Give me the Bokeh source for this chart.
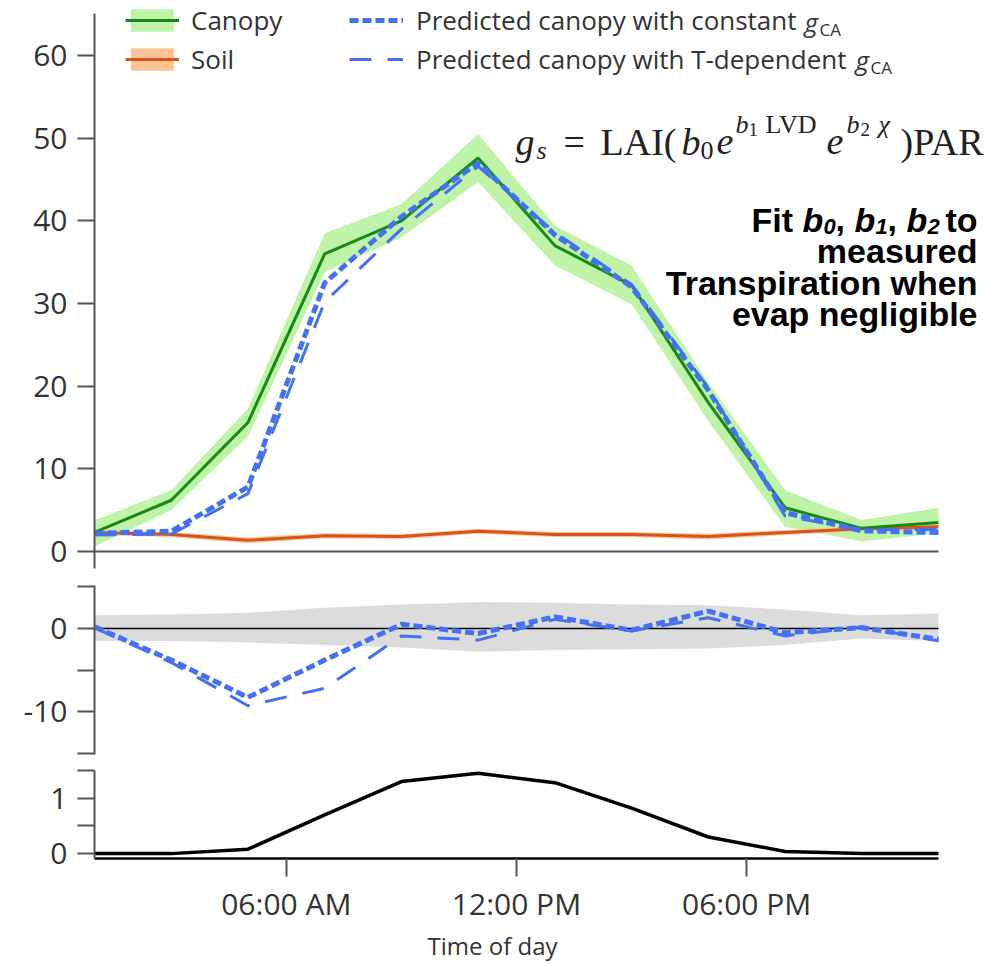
from bokeh.plotting import figure
from bokeh.layouts import column
from bokeh.models import Range1d, FixedTicker, Label, Legend, LegendItem
from bokeh.embed import file_html
from bokeh.resources import INLINE

# ---------------- data ----------------
hours = [1, 3, 5, 7, 9, 11, 13, 15, 17, 19, 21, 23]
canopy = [2.3, 6.2, 15.6, 36.0, 40.0, 47.6, 37.0, 32.2, 18.0, 5.3, 2.8, 3.5]
canopy_lo = [0.6, 5.0, 13.9, 33.8, 38.0, 44.7, 34.6, 29.9, 15.8, 3.0, 1.2, 2.2]
canopy_hi = [3.8, 7.4, 17.3, 38.5, 42.0, 50.5, 39.4, 34.6, 20.4, 7.4, 3.8, 5.3]
soil = [2.3, 2.05, 1.35, 1.9, 1.8, 2.45, 2.05, 2.05, 1.8, 2.3, 2.75, 3.0]
soil_lo = [2.0, 1.75, 1.0, 1.6, 1.5, 2.15, 1.75, 1.75, 1.45, 2.0, 2.45, 2.7]
soil_hi = [2.6, 2.35, 1.7, 2.2, 2.1, 2.75, 2.35, 2.35, 2.15, 2.6, 3.05, 3.3]
pred_const = [2.2, 2.45, 7.8, 32.5, 40.5, 47.0, 38.3, 32.0, 19.5, 4.7, 2.5, 2.3]
pred_tdep = [2.0, 2.1, 7.0, 30.2, 39.0, 46.6, 38.6, 32.3, 19.8, 4.3, 2.6, 2.7]
resid_const = [0.2, -3.8, -8.3, -3.8, 0.5, -0.6, 1.4, -0.2, 2.1, -0.5, 0.1, -1.3]
resid_tdep = [0.1, -4.1, -9.3, -7.2, -0.9, -1.4, 1.1, -0.3, 1.3, -0.9, 0.2, -1.5]
resid_band_lo = [-1.5, -1.5, -1.7, -2.0, -2.3, -2.8, -2.6, -2.5, -2.4, -2.0, -1.2, -1.5]
resid_band_hi = [1.6, 1.7, 1.9, 2.5, 2.9, 3.2, 3.1, 2.9, 2.8, 2.3, 1.6, 1.8]
par = [0.0, 0.0, 0.08, 0.7, 1.3, 1.45, 1.28, 0.82, 0.3, 0.04, 0.0, 0.0]

top_ticks = [0, 10, 20, 30, 40, 50, 60]
mid_ticks = [-10, 0]
mid_tick_labels = ["-10", "0"]
mid_minor = [-15, -5, 5]
bot_ticks = [0, 1]
bot_tick_labels = ["0", "1"]
bot_minor = [0.5, 1.5]
time_ticks = [6, 12, 18]
time_labels = ["06:00 AM", "12:00 PM", "06:00 PM"]
x_title = "Time of day"
legend_labels = ["Canopy", "Soil", "Predicted canopy with constant",
                 "Predicted canopy with T-dependent"]

# ---------------- styles / geometry ----------------
GREEN_LINE = "#138a13"
GREEN_BAND = "#bff3a8"
ORANGE_LINE = "#d4561e"
ORANGE_BAND = "#fcc395"
BLUE = "#4470f4"
GREY_BAND = "#dcdcdc"
AX = "#555555"
TXT = "#333333"
W = 985
BL = 94
PX_PER_H = (938 - BL) / 22.0          # data ends at x = 938 px
X_END = hours[0] + (W - BL) / PX_PER_H  # frames run to the right edge
xr = Range1d(hours[0], X_END)


def base_fig(height, yr, top, bottom):
    p = figure(width=W, height=height, x_range=xr, y_range=yr,
               output_backend="svg", toolbar_location=None,
               min_border_left=BL, min_border_right=0,
               min_border_top=top, min_border_bottom=bottom)
    p.outline_line_color = None
    p.grid.visible = False
    p.background_fill_color = "white"
    p.border_fill_color = "white"
    ax = p.yaxis[0]
    ax.axis_line_color = AX
    ax.axis_line_width = 2
    ax.major_tick_line_color = AX
    ax.major_tick_line_width = 2
    ax.major_tick_out = 17
    ax.major_tick_in = 0
    ax.minor_tick_line_color = AX
    ax.minor_tick_line_width = 2
    ax.minor_tick_out = 17
    ax.minor_tick_in = 0
    ax.major_label_text_font = "Open Sans"
    ax.major_label_text_font_size = "30px"
    ax.major_label_text_color = TXT
    ax.major_label_standoff = 10
    return p


# ---------------- top panel ----------------
SCALE = 8.267          # px per unit
ZERO_PX = 551          # px of y = 0
BOT_F = 568
Y_START = -(BOT_F - ZERO_PX) / SCALE
Y_END = Y_START + BOT_F / SCALE
p1 = base_fig(573, Range1d(Y_START, Y_END), 0, 5)
p1.xaxis.visible = False
p1.yaxis.ticker = FixedTicker(ticks=top_ticks, minor_ticks=[])
p1.yaxis.bounds = (Y_START, (ZERO_PX - 13) / SCALE)
p1.line([hours[0], hours[-1]], [0, 0], line_color=AX, line_width=2)

r_cband = p1.varea(x=hours, y1=canopy_lo, y2=canopy_hi, fill_color=GREEN_BAND)
r_sband = p1.varea(x=hours, y1=soil_lo, y2=soil_hi, fill_color=ORANGE_BAND)
r_sline = p1.line(hours, soil, line_color=ORANGE_LINE, line_width=3)
r_cline = p1.line(hours, canopy, line_color=GREEN_LINE, line_width=3)
r_tdep = p1.line(hours, pred_tdep, line_color=BLUE, line_width=3, line_dash="22 16")
r_const = p1.line(hours, pred_const, line_color=BLUE, line_width=5, line_dash="9 4")

leg_common = dict(glyph_width=54, glyph_height=28, spacing=3, padding=0, margin=0,
                  border_line_alpha=0, background_fill_alpha=0,
                  label_text_font="Open Sans", label_text_font_size="26px",
                  label_text_color=TXT, label_height=28)
leg1 = Legend(items=[LegendItem(label=legend_labels[0], renderers=[r_cband, r_cline]),
                     LegendItem(label=legend_labels[1], renderers=[r_sband, r_sline])],
              location=(31, 491), label_standoff=12, **leg_common)
leg2 = Legend(items=[LegendItem(label=legend_labels[2], renderers=[r_const]),
                     LegendItem(label=legend_labels[3], renderers=[r_tdep])],
              location=(255, 491), label_standoff=13, **leg_common)
p1.add_layout(leg1)
p1.add_layout(leg2)


def hx(px):
    return hours[0] + (px - BL) / PX_PER_H


def vy(py):
    return (ZERO_PX - py) / SCALE


def lab(fig, px, yval, text, size, font="Open Sans", style="normal", align="left",
        baseline="alphabetic", color=TXT):
    fig.add_layout(Label(x=hx(px), y=yval, text=text, text_font=font,
                         text_font_size=f"{size}px", text_font_style=style,
                         text_align=align, text_baseline=baseline, text_color=color))


# g_CA pieces of the legend labels
lab(p1, 804, vy(21), "g", 26, style="italic", baseline="middle")
lab(p1, 819, vy(29), "CA", 17, baseline="middle")
lab(p1, 855, vy(59), "g", 26, style="italic", baseline="middle")
lab(p1, 870, vy(67), "CA", 17, baseline="middle")

# formula  g_s = LAI(b0 e^{b1 LVD} e^{b2 chi})PAR
SER = "Liberation Serif"
FK = "#222222"
B0, BSUB, BSUP, BSS = 141, 150, 124, 129
for px, py, t, s, st in [
        (515, B0, "g", 38, "italic"), (536, BSUB, "s", 26, "italic"),
        (563, B0, "=", 38, "normal"), (600, B0, "LAI(", 38, "normal"),
        (681, B0, "b", 38, "italic"), (700, BSUB, "0", 26, "normal"),
        (716, B0, "e", 38, "italic"), (735, BSUP, "b", 26, "italic"),
        (748, BSS, "1", 19, "normal"), (765, BSUP, "LVD", 26, "normal"),
        (826, B0, "e", 38, "italic"), (846, BSUP, "b", 26, "italic"),
        (860, BSS, "2", 19, "normal"), (878, BSUP, "\u03c7", 26, "italic"),
        (900, B0, ")PAR", 38, "normal")]:
    lab(p1, px, vy(py), t, s, font=SER, style=st, color=FK)

# bold note
SAN = "Liberation Sans"
L1, L1S = 219, 226
for px, py, t, s, st in [
        (751, L1, "Fit", 34, "bold"), (802, L1, "b", 34, "bold italic"),
        (823, L1S, "0", 22, "bold italic"), (835, L1, ",", 34, "bold"),
        (854, L1, "b", 34, "bold italic"), (875, L1S, "1", 22, "bold italic"),
        (887, L1, ",", 34, "bold"), (906, L1, "b", 34, "bold italic"),
        (927, L1S, "2", 22, "bold italic"), (945, L1, "to", 34, "bold")]:
    lab(p1, px, vy(py), t, s, font=SAN, style=st, color="black")
for py, t in [(250, "measured"), (282, "Transpiration when"), (313, "evap negligible")]:
    lab(p1, 977, vy(py), t, 34, font=SAN, style="bold", align="right", color="black")

# ---------------- middle panel ----------------
p2 = base_fig(185, Range1d(-15.18, 5.18), 12, 4)
p2.xaxis.visible = False
p2.yaxis.ticker = FixedTicker(ticks=mid_ticks, minor_ticks=mid_minor)
p2.yaxis.major_label_overrides = dict(zip(mid_ticks, mid_tick_labels))
p2.varea(x=hours, y1=resid_band_lo, y2=resid_band_hi, fill_color=GREY_BAND)
p2.line([hours[0], hours[-1]], [0, 0], line_color="black", line_width=1.5)
p2.line(hours, resid_tdep, line_color=BLUE, line_width=3, line_dash="22 16")
p2.line(hours, resid_const, line_color=BLUE, line_width=5, line_dash="9 4")

# ---------------- bottom panel ----------------
p3 = base_fig(168, Range1d(-0.088, 1.5), 12, 66)
p3.yaxis.ticker = FixedTicker(ticks=bot_ticks, minor_ticks=bot_minor)
p3.yaxis.major_label_overrides = dict(zip(bot_ticks, bot_tick_labels))
xa = p3.xaxis[0]
xa.bounds = (hours[0], hours[-1])
xa.ticker = FixedTicker(ticks=time_ticks, minor_ticks=[])
xa.major_label_overrides = dict(zip(time_ticks, time_labels))
xa.axis_line_color = "black"
xa.axis_line_width = 2.5
xa.major_tick_line_color = AX
xa.major_tick_line_width = 2
xa.major_tick_out = 18
xa.major_tick_in = 0
xa.minor_tick_line_color = None
xa.major_label_text_font = "Open Sans"
xa.major_label_text_font_size = "30px"
xa.major_label_text_color = TXT
xa.major_label_standoff = 6
p3.line(hours, par, line_color="black", line_width=3.5)

# ---------------- strip holding the x-axis title ----------------
p4 = figure(width=W, height=38, x_range=xr, y_range=Range1d(0, 1),
            output_backend="svg", toolbar_location=None,
            min_border_left=BL, min_border_right=0, min_border_top=0, min_border_bottom=0)
p4.axis.visible = False
p4.grid.visible = False
p4.outline_line_color = None
p4.add_layout(Label(x=hx(492), y=0.5, text=x_title, text_font="Open Sans",
                    text_font_size="24px", text_color=TXT, text_align="center",
                    text_baseline="middle"))

layout = column(p1, p2, p3, p4, spacing=0)
open("out.html", "w").write(file_html(layout, INLINE))
